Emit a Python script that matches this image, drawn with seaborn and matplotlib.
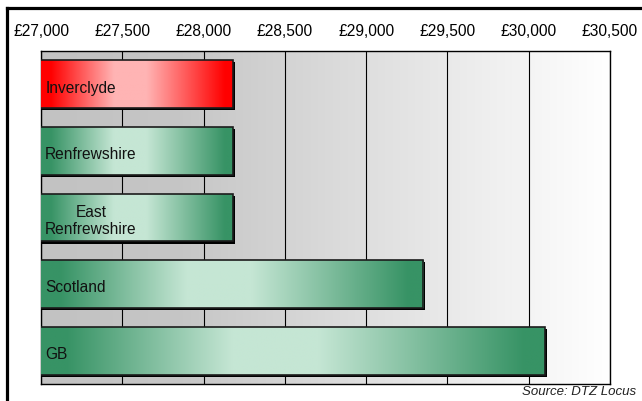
import numpy as np
import pandas as pd
import matplotlib
matplotlib.use("Agg")
import matplotlib.pyplot as plt
import matplotlib.patheffects as pe
from matplotlib.patches import Rectangle
from matplotlib.lines import Line2D
from matplotlib.colors import to_rgb
import seaborn as sns

# Average earnings by area
areas = ["Inverclyde", "Renfrewshire", "East\nRenfrewshire", "Scotland", "GB"]
earnings = [28180, 28180, 28180, 29350, 30100]
highlighted = ["Inverclyde"]

x_ticks = [27000, 27500, 28000, 28500, 29000, 29500, 30000, 30500]
x_tick_labels = ["£27,000", "£27,500", "£28,000", "£28,500",
                 "£29,000", "£29,500", "£30,000", "£30,500"]
source_note = "Source: DTZ Locus"

sns.set_theme(style="white")
plt.rcParams["font.family"] = ["Liberation Sans", "DejaVu Sans"]

W, H = 642, 402
fig = plt.figure(figsize=(W / 100, H / 100), dpi=100)
ax = fig.add_axes([41 / W, 1 - 385 / H, (610 - 41) / W, (385 - 52) / H])

df = pd.DataFrame({"area": areas, "earnings": earnings})
sns.barplot(data=df, y="area", x="earnings", orient="h", width=0.72,
            color="black", ax=ax, zorder=2)

x_lo, x_hi = x_ticks[0], x_ticks[-1]
ax.set_xlim(x_lo, x_hi)
ax.set_ylim(len(areas) - 0.5, -0.5)


def ramp(stops, n=400):
    """Build an (1, n, 3) colour ramp from (position, colour) stops."""
    pos = np.array([s[0] for s in stops])
    cols = np.array([to_rgb(s[1]) for s in stops])
    t = np.linspace(0, 1, n)
    rgb = np.stack([np.interp(t, pos, cols[:, k]) for k in range(3)], axis=-1)
    return rgb[np.newaxis, :, :]


# Plot-area background: grey on the left fading to white on the right
bg = ramp([(0.0, "#c2c2c2"), (0.25, "#c6c6c6"), (1.0, "#ffffff")])
ax.imshow(bg, extent=(x_lo, x_hi, len(areas) - 0.5, -0.5), aspect="auto",
          interpolation="bilinear", zorder=-1)

green_dark, green_light = "#379365", "#c5e6d4"
red_dark, red_light = "#ff0000", "#ffb4b4"


def bar_ramp(dark, light):
    return ramp([(0.0, dark), (0.05, dark), (0.38, light), (0.55, light),
                 (0.96, dark), (1.0, dark)])


for patch, name in zip(ax.patches, areas):
    dark, light = ((red_dark, red_light) if name in highlighted
                   else (green_dark, green_light))
    x0 = max(patch.get_x(), x_lo)
    x1 = patch.get_x() + patch.get_width()
    y0 = patch.get_y()
    y1 = y0 + patch.get_height()
    patch.set_facecolor("black")
    patch.set_edgecolor("none")
    patch.set_path_effects([
        pe.SimplePatchShadow(offset=(1.5, -1.5), shadow_rgbFace="black",
                             alpha=1.0),
        pe.Normal(),
    ])
    im = ax.imshow(bar_ramp(dark, light), extent=(x0, x1, y1, y0),
                   aspect="auto", interpolation="bilinear", zorder=3)
    im.set_clip_path(patch)
    ax.add_patch(Rectangle((patch.get_x(), y0), patch.get_width(),
                           patch.get_height(), facecolor="none",
                           edgecolor="#1c1c1c", linewidth=1.2, zorder=4))

ax.set_xlim(x_lo, x_hi)
ax.set_ylim(len(areas) - 0.5, -0.5)

# Category names written inside the bars
for i, name in enumerate(areas):
    ax.annotate(name, xy=(x_lo, i), xytext=(3, -2), textcoords="offset points",
                ha="left", va="center", multialignment="center",
                fontsize=11.2, color="#111111", zorder=5)

ax.set_xticks(x_ticks)
ax.set_xticklabels(x_tick_labels)
ax.set_yticks([])
ax.set_xlabel("")
ax.set_ylabel("")
ax.tick_params(axis="x", top=True, labeltop=True, bottom=False,
               labelbottom=False, length=0, pad=9, labelsize=11.2,
               labelcolor="black")
ax.grid(axis="x", color="black", linewidth=0.8)
ax.set_axisbelow(True)
for side in ["top", "bottom", "left", "right"]:
    ax.spines[side].set_visible(True)
    ax.spines[side].set_color("black")
    ax.spines[side].set_linewidth(1.0)

# Outer frame (left and top edges)
fig.add_artist(Line2D([6.5 / W, 6.5 / W], [0, 1 - 9.3 / H], color="black",
                      linewidth=2.3, transform=fig.transFigure,
                      solid_capstyle="projecting"))
fig.add_artist(Line2D([6.5 / W, 1], [1 - 9.3 / H, 1 - 9.3 / H], color="black",
                      linewidth=2.3, transform=fig.transFigure,
                      solid_capstyle="projecting"))

fig.text(636 / W, 1 - 392 / H, source_note, ha="right", va="center",
         style="italic", fontsize=9.5, color="#222222")

fig.savefig("out.png", dpi=100, facecolor="white")
